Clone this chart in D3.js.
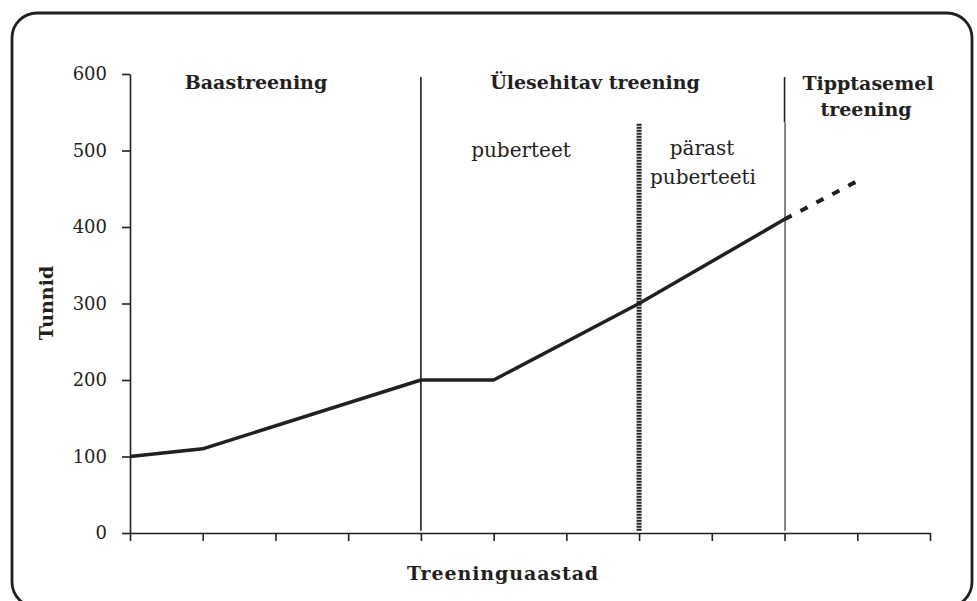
<html>
<head>
<style>
  body { margin: 0; background: #fff; }
  text { font-family: "DejaVu Serif", "Liberation Serif", serif; fill: #231f20; }
  .axis path, .axis line { stroke: #231f20; stroke-width: 1.6; }
  .axis text { font-size: 18px; }
</style>
</head>
<body>
<svg id="chart" width="977" height="601"></svg>
<script src="https://cdn.jsdelivr.net/npm/d3@7"></script>
<script>
// data
const years = [0, 1, 4, 5, 7, 9]
const hours = [100, 110, 200, 200, 300, 410]
const trendYears = [9, 10]
const trendHours = [410, 460]
const yTicks = [0, 100, 200, 300, 400, 500, 600]
const phaseBounds = [4, 7, 9]          // thin, puberty (dotted), thin
const phaseNames = ["Baastreening", "Ülesehitav treening", "Tipptasemel", "treening"]
const subNames = ["puberteet", "pärast", "puberteeti"]

let svg = d3.select("#chart")

// rounded frame (bottom runs off the picture)
svg.append("rect")
    .attr("x", 12).attr("y", 13)
    .attr("width", 960).attr("height", 594)
    .attr("rx", 25)
    .attr("fill", "none")
    .attr("stroke", "#231f20")
    .attr("stroke-width", 2.8)

let x = d3.scaleLinear().domain([0, 11]).range([130, 930])
let y = d3.scaleLinear().domain([0, 600]).range([533, 74])

// axes
svg.append("g")
    .attr("class", "axis")
    .attr("transform", "translate(130,0)")
    .call(d3.axisLeft(y).tickValues(yTicks).tickSize(8).tickSizeOuter(0).tickPadding(15))

svg.append("g")
    .attr("class", "axis")
    .attr("transform", "translate(0,533)")
    .call(d3.axisBottom(x).ticks(11).tickSize(8).tickSizeOuter(0).tickFormat(""))

svg.selectAll(".axis").attr("font-family", null).attr("font-size", null)

// phase dividers
svg.append("line")
    .attr("x1", x(phaseBounds[0])).attr("x2", x(phaseBounds[0]))
    .attr("y1", y(596)).attr("y2", y(3))
    .attr("stroke", "#231f20").attr("stroke-width", 1.6)

svg.append("line")
    .attr("x1", x(phaseBounds[1])).attr("x2", x(phaseBounds[1]))
    .attr("y1", y(535)).attr("y2", y(3))
    .attr("stroke", "#231f20").attr("stroke-width", 5)
    .attr("stroke-dasharray", "2,1")

svg.append("line")
    .attr("x1", x(phaseBounds[2])).attr("x2", x(phaseBounds[2]))
    .attr("y1", y(596)).attr("y2", y(537))
    .attr("stroke", "#231f20").attr("stroke-width", 1.6)

svg.append("line")
    .attr("x1", x(phaseBounds[2]) + 0.5).attr("x2", x(phaseBounds[2]) + 0.5)
    .attr("y1", y(537)).attr("y2", y(3))
    .attr("stroke", "#231f20").attr("stroke-width", 1.1)

// hours line
let line = d3.line().x(d => x(d[0])).y(d => y(d[1]))

svg.append("path")
    .datum(d3.zip(years, hours))
    .attr("d", line)
    .attr("fill", "none")
    .attr("stroke", "#231f20")
    .attr("stroke-width", 3.5)
    .attr("stroke-linejoin", "round")

svg.append("path")
    .datum(d3.zip(trendYears, trendHours))
    .attr("d", line)
    .attr("fill", "none")
    .attr("stroke", "#231f20")
    .attr("stroke-width", 4)
    .attr("stroke-dasharray", "8,10")

// phase titles
let bold = { "font-size": "19px", "font-weight": "bold", "text-anchor": "middle" }
function label(txt, cx, cy, style) {
    let t = svg.append("text").text(txt).attr("x", cx).attr("y", cy)
    Object.entries(style).forEach(([k, v]) => t.attr(k, v))
    return t
}
label(phaseNames[0], 256, 89, bold)
label(phaseNames[1], 595, 89, bold)
label(phaseNames[2], 868, 90, bold)
label(phaseNames[3], 866, 116, bold)

let plain = { "font-size": "20px", "text-anchor": "middle" }
label(subNames[0], 521, 157, plain)
label(subNames[1], 702, 155, plain)
label(subNames[2], 703, 184, plain)

// axis titles
label("Tunnid", 0, 0, bold).attr("transform", "translate(53,303) rotate(-90)")
label("Treeninguaastad", 503, 580, bold).attr("letter-spacing", "0.9px")
</script>
</body>
</html>
